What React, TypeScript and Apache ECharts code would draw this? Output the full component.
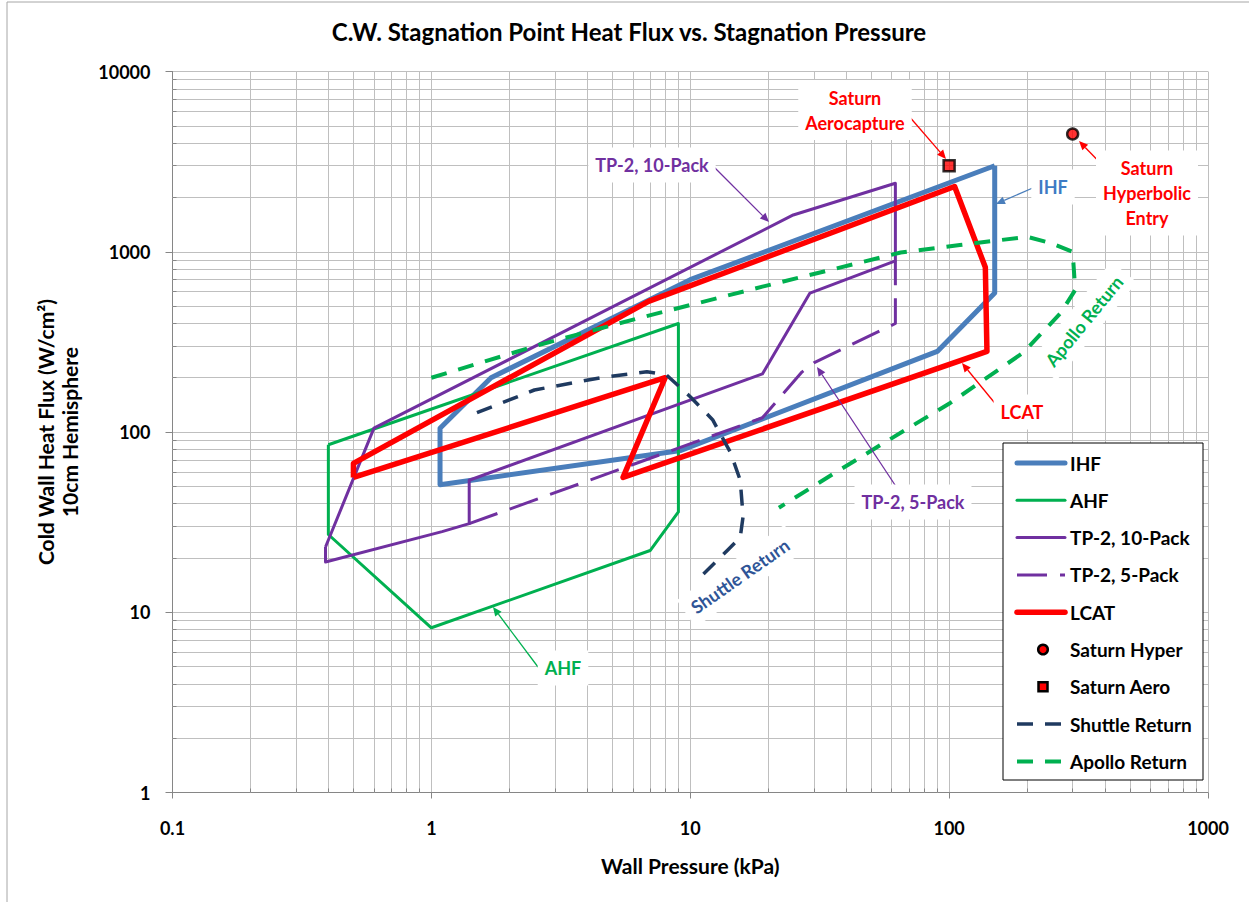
import React, { useEffect, useRef } from "react";
import * as echarts from "echarts";

// ---------- DATA (wall pressure kPa, heat flux W/cm2) ----------
const IHF = [[150, 3000], [150, 590], [90, 280], [9.2, 79], [1.08, 51], [1.08, 105], [1.7, 200], [10, 700], [150, 3000]];
const AHF = [[0.4, 85], [0.4, 27], [1, 8.2], [7, 22], [9, 36], [9, 400], [0.4, 85]];
const TP2_10 = [[0.39, 23], [0.39, 19], [1.1, 28], [1.4, 31], [1.4, 54], [19, 210], [29, 590], [62, 890], [62, 2400], [25, 1600], [0.6, 105], [0.39, 23]];
const TP2_5 = [[1.4, 31], [19, 120], [27, 215], [30, 242], [62, 400], [62, 890]];
const LCAT = [[0.5, 56], [0.5, 67], [6.9, 530], [105, 2300], [138, 820], [140, 280], [5.5, 56], [8, 200], [0.5, 56]];
const SATURN_HYPER = [[300, 4500]];
const SATURN_AERO = [[100, 3000]];
const SHUTTLE = [[1.5, 128], [2.5, 171], [4.5, 200], [6.8, 216], [8.1, 207], [10, 157], [12.2, 117], [14.3, 77], [15.6, 54], [16, 34], [15.6, 26], [13.9, 22], [11.1, 16]];
const APOLLO = [[1, 200], [2.6, 304], [6.4, 430], [19, 640], [65, 990], [110, 1090], [200, 1210], [246, 1120], [300, 1000], [307, 614], [270, 458], [193, 275], [101, 145], [56, 87], [36, 59], [22, 38]];

const SERIES_NAMES = ["IHF", "AHF", "TP-2, 10-Pack", "TP-2, 5-Pack", "LCAT", "Saturn Hyper", "Saturn Aero", "Shuttle Return", "Apollo Return"];
const X_TICK_LABELS = ["0.1", "1", "10", "100", "1000"];
const Y_TICK_LABELS = ["1", "10", "100", "1000", "10000"];
const MINOR_MULT = [2, 3, 4, 5, 6, 7, 8, 9];
const X_DECADES = [0.1, 1, 10, 100];
const Y_DECADES = [1, 10, 100, 1000];
const X_RANGE = [0.1, 1000];
const Y_RANGE = [1, 10000];

const TITLE = "C.W. Stagnation Point Heat Flux vs. Stagnation Pressure";
const Y_NAME = "Cold Wall Heat Flux (W/cm²)\n10cm Hemisphere";
const X_NAME = "Wall Pressure (kPa)";

// ---------- STYLES ----------
const FONT = "Lato, 'Open Sans', 'Liberation Sans', sans-serif";
const GRID_COLOR = "#bfbfbf";
const AXIS_COLOR = "#868686";
type Sty = { kind: "line" | "circle" | "rect"; color: string; width: number; dash?: number[] };
const STYLES: Record<string, Sty> = {
  "IHF": { kind: "line", color: "#4A7EBB", width: 5 },
  "AHF": { kind: "line", color: "#00B050", width: 3 },
  "TP-2, 10-Pack": { kind: "line", color: "#7030A0", width: 3 },
  "TP-2, 5-Pack": { kind: "line", color: "#7030A0", width: 3, dash: [30, 13] },
  "LCAT": { kind: "line", color: "#FF0000", width: 5.5 },
  "Saturn Hyper": { kind: "circle", color: "#FF0000", width: 11 },
  "Saturn Aero": { kind: "rect", color: "#FF0000", width: 11 },
  "Shuttle Return": { kind: "line", color: "#1F3A60", width: 3.5, dash: [16, 12] },
  "Apollo Return": { kind: "line", color: "#00B050", width: 4, dash: [16, 12] },
};
const SERIES_DATA: Record<string, number[][]> = {
  "IHF": IHF, "AHF": AHF, "TP-2, 10-Pack": TP2_10, "TP-2, 5-Pack": TP2_5, "LCAT": LCAT,
  "Saturn Hyper": SATURN_HYPER, "Saturn Aero": SATURN_AERO, "Shuttle Return": SHUTTLE, "Apollo Return": APOLLO,
};

const minorX = X_DECADES.flatMap((d) => MINOR_MULT.map((m) => +(d * m).toPrecision(3)));
const minorY = Y_DECADES.flatMap((d) => MINOR_MULT.map((m) => +(d * m).toPrecision(3)));

function fmt(v: number, labels: string[]) {
  const s = String(+Number(v).toPrecision(4));
  return labels.includes(s) ? s : "";
}

function arrow(x1: number, y1: number, x2: number, y2: number, color: string) {
  const a = Math.atan2(y2 - y1, x2 - x1);
  const L = 9, W = 4;
  const bx = x2 - L * Math.cos(a), by = y2 - L * Math.sin(a);
  return [
    { type: "line", z: 100, silent: true, shape: { x1, y1, x2: bx, y2: by }, style: { stroke: color, lineWidth: 1.3 } },
    {
      type: "polygon", z: 100, silent: true,
      shape: { points: [[x2, y2], [bx + W * Math.sin(a), by - W * Math.cos(a)], [bx - W * Math.sin(a), by + W * Math.cos(a)]] },
      style: { fill: color },
    },
  ];
}

function label(text: string, x: number, y: number, color: string, rotation = 0, pad: number[] = [5, 7]) {
  return {
    type: "text", z: 101, silent: true, x, y, rotation,
    style: {
      text, fill: color, font: `bold 18px ${FONT}`, align: "center", verticalAlign: "middle",
      backgroundColor: "#ffffff", padding: pad, lineHeight: 25,
    },
  };
}

function legendGraphic() {
  const left = 1003, top = 443, w = 200, h = 337;
  const x0 = 1017, x1 = 1065, y0 = 463, step = 37.3;
  const els: any[] = [
    { type: "rect", z: 110, silent: true, shape: { x: left, y: top, width: w, height: h }, style: { fill: "#fff", stroke: "#000", lineWidth: 1 } },
  ];
  SERIES_NAMES.forEach((name, i) => {
    const s = STYLES[name];
    const y = y0 + i * step;
    if (s.kind === "line") {
      els.push({
        type: "line", z: 111, silent: true, shape: { x1: x0, y1: y, x2: x1, y2: y },
        style: { stroke: s.color, lineWidth: s.width, lineDash: s.dash || null, lineCap: s.dash ? "butt" : "round" },
      });
    } else if (s.kind === "circle") {
      els.push({ type: "circle", z: 111, silent: true, shape: { cx: 1043, cy: y, r: 4.8 }, style: { fill: s.color, stroke: "#000", lineWidth: 2.5 } });
    } else {
      els.push({ type: "rect", z: 111, silent: true, shape: { x: 1038.5, y: y - 4.5, width: 9, height: 9 }, style: { fill: s.color, stroke: "#000", lineWidth: 2.5 } });
    }
    els.push({
      type: "text", z: 111, silent: true, x: 1070, y,
      style: { text: name, fill: "#000", font: `bold 19px ${FONT}`, align: "left", verticalAlign: "middle" },
    });
  });
  return els;
}

export default function App() {
  const ref = useRef<HTMLDivElement>(null);
  useEffect(() => {
    document.body.style.margin = "0";
    const chart = echarts.init(ref.current!, undefined, { renderer: "svg" });
    // minor tick marks: ~4px long inside the plot, converted to data units via the log scales
    const yTickEnd = Y_RANGE[0] * Math.pow(10, 4 / 180.2);
    const xTickEnd = X_RANGE[0] * Math.pow(10, 4 / 258.8);
    const series: any[] = [
      {
        name: "__grid", type: "line", data: [], z: 1, silent: true,
        markLine: {
          z: 1, silent: true, symbol: ["none", "none"], label: { show: false },
          lineStyle: { color: GRID_COLOR, width: 1, type: "solid" },
          emphasis: { disabled: true },
          data: [...minorX.map((v) => ({ xAxis: v })), ...minorY.map((v) => ({ yAxis: v }))],
        },
      },
      {
        name: "__ticks", type: "line", data: [], z: 2, silent: true,
        markLine: {
          z: 2, silent: true, symbol: ["none", "none"], label: { show: false },
          lineStyle: { color: AXIS_COLOR, width: 1, type: "solid" },
          emphasis: { disabled: true },
          data: [
            ...minorX.map((v) => [{ coord: [v, Y_RANGE[0]] }, { coord: [v, yTickEnd] }]),
            ...minorY.map((v) => [{ coord: [X_RANGE[0], v] }, { coord: [xTickEnd, v] }]),
          ],
        },
      },
    ];
    SERIES_NAMES.forEach((name) => {
      const s = STYLES[name];
      if (s.kind === "line") {
        series.push({
          name, type: "line", data: SERIES_DATA[name], symbol: "none", z: 3, silent: true,
          lineStyle: { color: s.color, width: s.width, type: s.dash || "solid", cap: "butt", join: "round" },
          itemStyle: { color: s.color },
        });
      } else {
        series.push({
          name, type: "scatter", data: SERIES_DATA[name], symbol: s.kind, symbolSize: s.width, z: 4, silent: true,
          itemStyle: { color: s.color, borderColor: "#000", borderWidth: 2.5 },
        });
      }
    });
    const option: any = {
      animation: false,
      backgroundColor: "#ffffff",
      title: {
        text: TITLE, left: 629, top: 19, padding: 0, textAlign: "center",
        textStyle: { fontFamily: FONT, fontWeight: "bold", fontSize: 24, color: "#000" },
      },
      grid: { left: 172.5, top: 71.5, right: 41, bottom: 109.5, containLabel: false },
      xAxis: {
        type: "log", logBase: 10, min: X_RANGE[0], max: X_RANGE[1],
        name: X_NAME, nameLocation: "middle", nameGap: 62,
        nameTextStyle: { fontFamily: FONT, fontWeight: "bold", fontSize: 21, color: "#000" },
        axisLine: { lineStyle: { color: AXIS_COLOR, width: 1 } },
        axisTick: { show: true, inside: false, length: 6, lineStyle: { color: AXIS_COLOR } },
        axisLabel: { margin: 26, fontFamily: FONT, fontWeight: "bold", fontSize: 18, color: "#000", formatter: (v: number) => fmt(v, X_TICK_LABELS) },
        splitLine: { show: true, lineStyle: { color: GRID_COLOR, width: 1 } },
      },
      yAxis: {
        type: "log", logBase: 10, min: Y_RANGE[0], max: Y_RANGE[1],
        axisLine: { show: true, lineStyle: { color: AXIS_COLOR, width: 1 } },
        axisTick: { show: true, inside: false, length: 7, lineStyle: { color: AXIS_COLOR } },
        axisLabel: { margin: 22, fontFamily: FONT, fontWeight: "bold", fontSize: 18, color: "#000", formatter: (v: number) => fmt(v, Y_TICK_LABELS) },
        splitLine: { show: true, lineStyle: { color: GRID_COLOR, width: 1 } },
      },
      series,
      graphic: [
        { type: "rect", z: 200, silent: true, shape: { x: 7, y: 2, width: 1300, height: 1000 }, style: { fill: "none", stroke: "#a6a6a6", lineWidth: 1 } },
        {
          type: "text", z: 101, silent: true, x: 57, y: 432, rotation: Math.PI / 2,
          style: { text: Y_NAME, fill: "#000", font: `bold 21px ${FONT}`, align: "center", verticalAlign: "middle", lineHeight: 24 },
        },
        ...arrow(908, 115, 946, 159, "#FF0000"),
        label("Saturn\nAerocapture", 855, 110, "#FF0000"),
        ...arrow(1112, 175, 1079, 141, "#FF0000"),
        label("Saturn\nHyperbolic\nEntry", 1147, 193, "#FF0000"),
        ...arrow(1035, 187, 996, 204, "#4A7EBB"),
        label("IHF", 1053, 187, "#3D7BC4"),
        ...arrow(712, 165, 769, 222, "#7030A0"),
        label("TP-2, 10-Pack", 652, 165, "#7030A0"),
        ...arrow(897, 488, 817, 367, "#7030A0"),
        label("TP-2, 5-Pack", 913, 502, "#7030A0"),
        ...arrow(998, 407, 962, 363, "#FF0000"),
        label("LCAT", 1022, 412, "#FF0000"),
        ...arrow(538, 667, 493, 607, "#00B050"),
        label("AHF", 563, 668, "#00B050"),
        label("Apollo Return", 1084, 321, "#00B050", 0.885, [4, 8]),
        label("Shuttle Return", 740, 576, "#2F5597", 0.611, [4, 8]),
        ...legendGraphic(),
      ],
    };
    chart.setOption(option);
    return () => chart.dispose();
  }, []);
  return <div ref={ref} style={{ width: 1249, height: 902 }} />;
}
